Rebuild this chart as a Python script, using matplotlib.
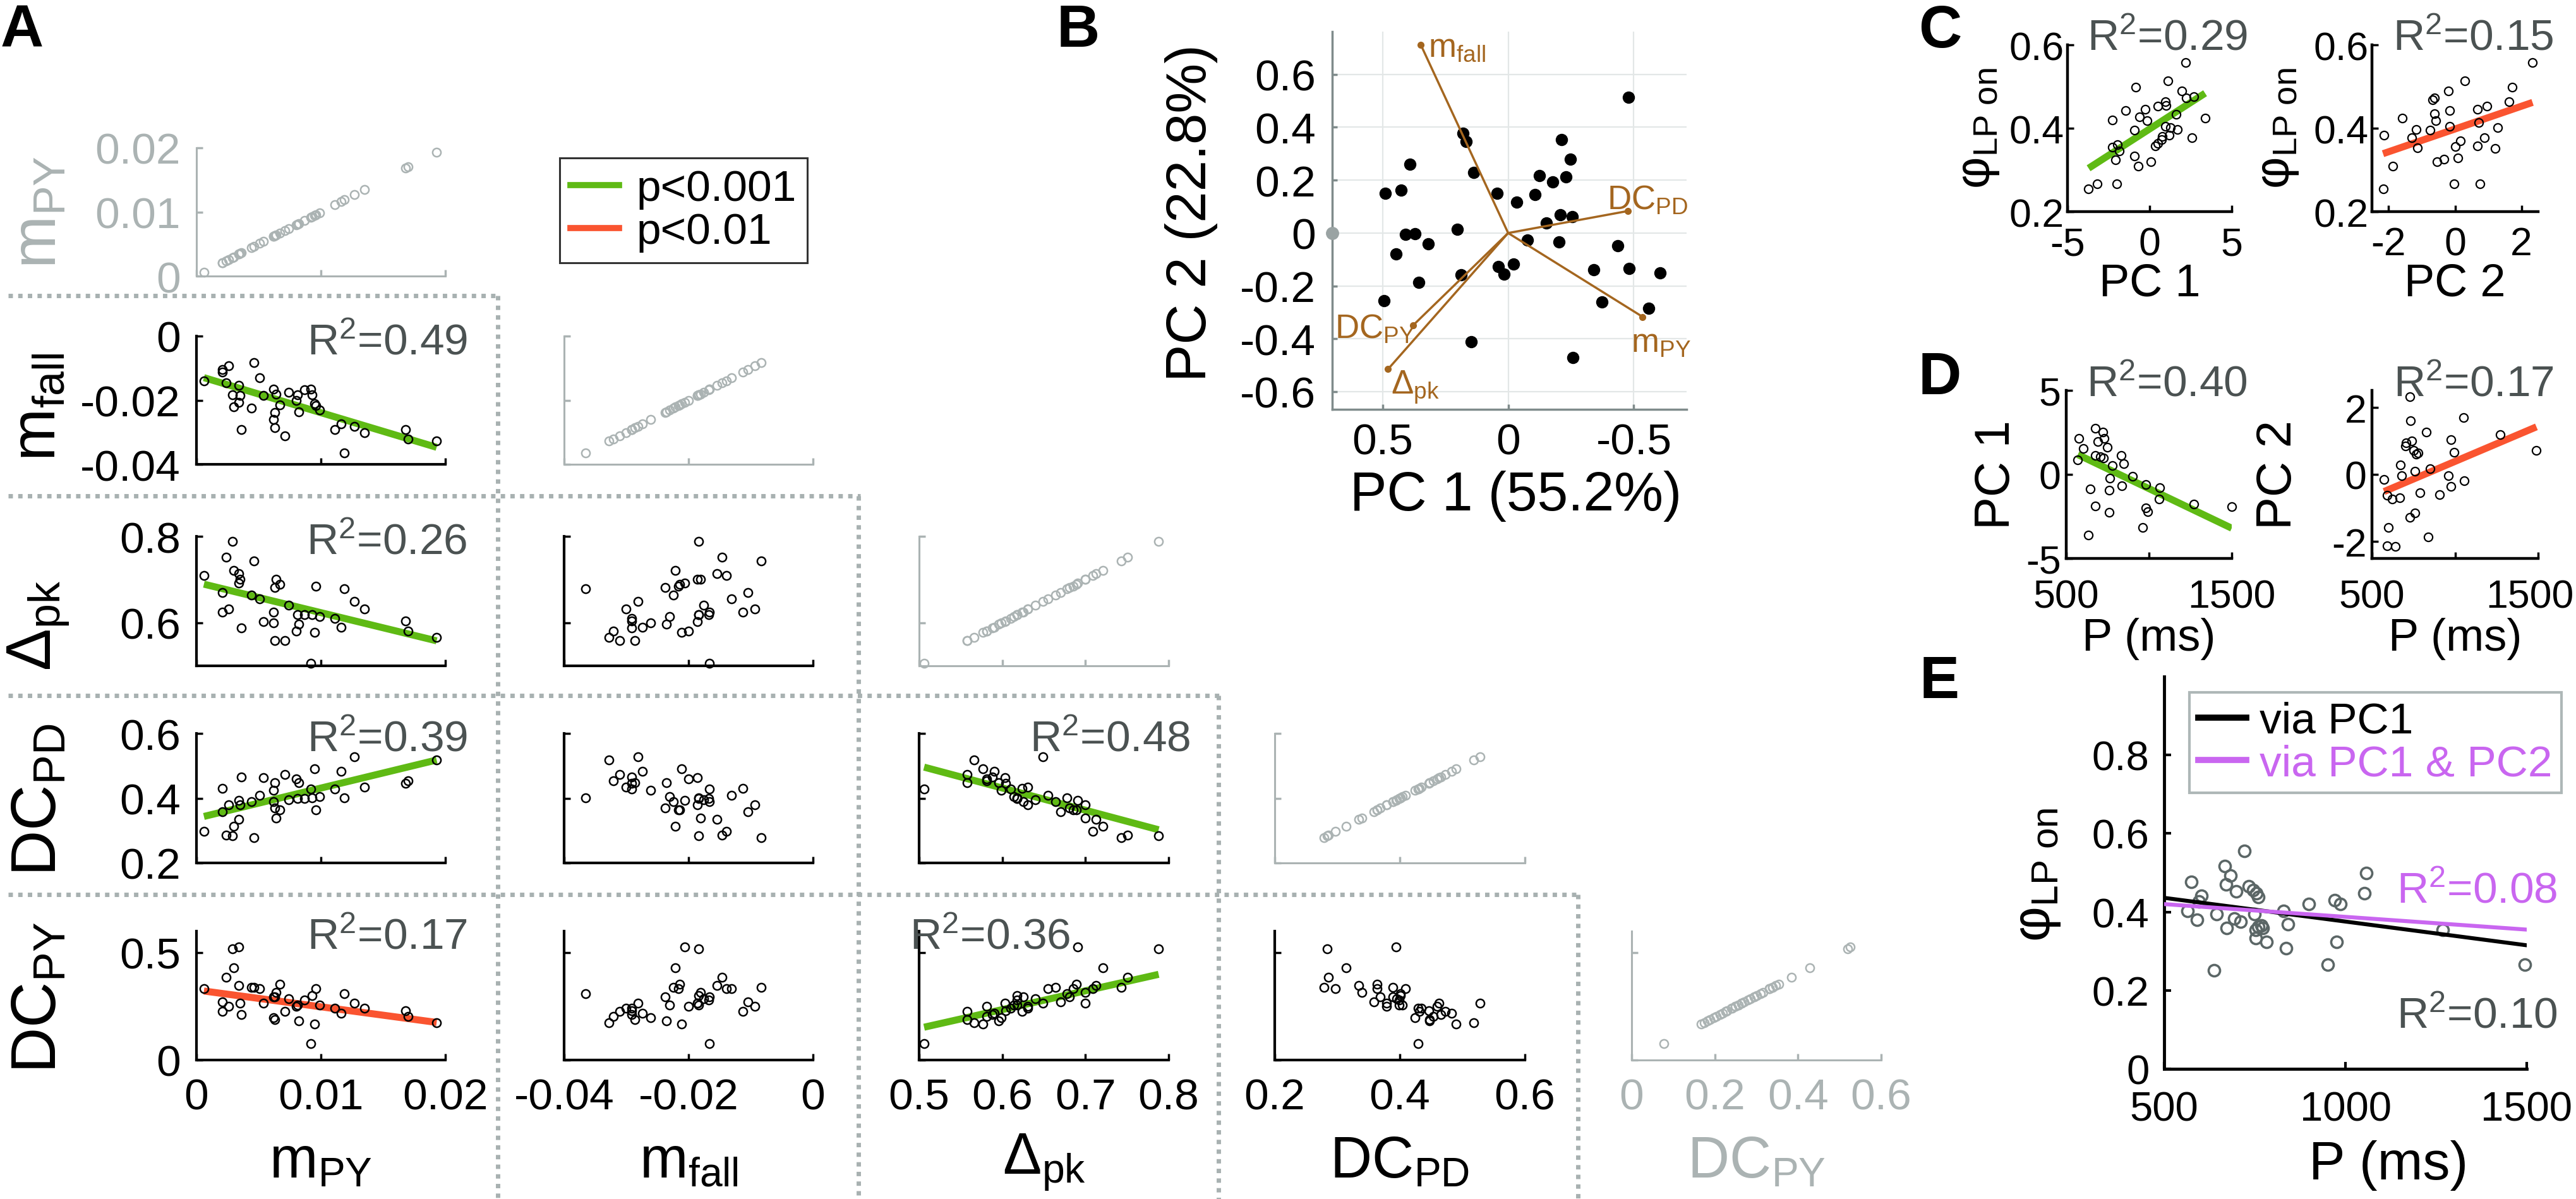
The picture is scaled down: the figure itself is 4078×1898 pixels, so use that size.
import numpy as np
import matplotlib
matplotlib.use('Agg')
import matplotlib.pyplot as plt
import matplotlib.transforms as mtransforms
from matplotlib.lines import Line2D

plt.rcParams['font.family'] = ['Liberation Sans', 'DejaVu Sans']
plt.rcParams['mathtext.fontset'] = 'custom'
plt.rcParams['mathtext.rm'] = 'Liberation Sans'
plt.rcParams['mathtext.it'] = 'Liberation Sans:italic'
plt.rcParams['axes.unicode_minus'] = False

# ---------------- data ----------------
# panel A: one entry per preparation (sorted by m_PY)
m_py = [0.0006, 0.0021, 0.0021, 0.0024, 0.0026, 0.0029, 0.0030, 0.0034, 0.0034, 0.0035,
        0.0036, 0.0044, 0.0046, 0.0051, 0.0054, 0.0062, 0.0062, 0.0063, 0.0063, 0.0064,
        0.0067, 0.0071, 0.0074, 0.0080, 0.0081, 0.0082, 0.0087, 0.0092, 0.0093, 0.0095,
        0.0096, 0.0099, 0.0111, 0.0116, 0.0119, 0.0127, 0.0135, 0.0168, 0.0170, 0.0193]
m_fall = [-0.0139, -0.0113, -0.0105, -0.0146, -0.0093, -0.0184, -0.0221, -0.0206, -0.0154, -0.0186,
          -0.0291, -0.0224, -0.0083, -0.0131, -0.0186, -0.0166, -0.0261, -0.0286, -0.0238, -0.0181,
          -0.0214, -0.0311, -0.0176, -0.0200, -0.0184, -0.0236, -0.0168, -0.0166, -0.0184, -0.0211,
          -0.0216, -0.0230, -0.0291, -0.0274, -0.0365, -0.0281, -0.0301, -0.0291, -0.0321, -0.0328]
d_pk = [0.709, 0.624, 0.670, 0.751, 0.631, 0.788, 0.721, 0.691, 0.713, 0.700,
        0.588, 0.664, 0.743, 0.655, 0.603, 0.625, 0.599, 0.558, 0.681, 0.700,
        0.689, 0.558, 0.640, 0.581, 0.618, 0.596, 0.618, 0.506, 0.618, 0.577,
        0.685, 0.614, 0.610, 0.590, 0.678, 0.649, 0.631, 0.604, 0.581, 0.566]
dc_pd = [0.297, 0.431, 0.359, 0.286, 0.379, 0.284, 0.314, 0.394, 0.334, 0.379,
         0.466, 0.389, 0.279, 0.409, 0.463, 0.389, 0.424, 0.447, 0.369, 0.339,
         0.364, 0.473, 0.395, 0.460, 0.399, 0.447, 0.399, 0.429, 0.401, 0.490,
         0.364, 0.404, 0.429, 0.483, 0.401, 0.528, 0.434, 0.446, 0.454, 0.518]
dc_py = [0.331, 0.226, 0.271, 0.384, 0.249, 0.519, 0.429, 0.526, 0.346, 0.264,
         0.212, 0.339, 0.339, 0.331, 0.264, 0.294, 0.197, 0.189, 0.294, 0.316,
         0.354, 0.226, 0.286, 0.249, 0.256, 0.182, 0.280, 0.077, 0.301, 0.167,
         0.331, 0.256, 0.240, 0.219, 0.310, 0.264, 0.241, 0.230, 0.204, 0.174]

a_names = [r'$\mathregular{m_{PY}}$', r'$\mathregular{m_{fall}}$', r'$\mathregular{Δ_{pk}}$',
           r'$\mathregular{DC_{PD}}$', r'$\mathregular{DC_{PY}}$']
a_lims = [(0, 0.02), (-0.04, 0), (0.5, 0.8), (0.2, 0.6), (0, 0.6)]
a_xticks = [[0, 0.01, 0.02], [-0.04, -0.02, 0], [0.5, 0.6, 0.7, 0.8], [0.2, 0.4, 0.6], [0, 0.2, 0.4, 0.6]]
a_yticks = [[0, 0.01, 0.02], [-0.04, -0.02, 0], [0.6, 0.8], [0.2, 0.4, 0.6], [0, 0.5]]

# significant regressions: (row, col): slope, intercept, p level, R2
a_fits = {(1, 0): (-1.162, -0.01227, 'p001', '0.49'),
          (2, 0): (-7.02, 0.6934, 'p001', '0.26'),
          (3, 0): (9.32, 0.338, 'p001', '0.39'),
          (4, 0): (-7.82, 0.326, 'p01', '0.17'),
          (3, 2): (-0.686, 0.843, 'p001', '0.48'),
          (4, 2): (0.873, -0.289, 'p001', '0.36')}

# panel B: PCA scores and loadings
b_pc1 = [-0.479, 0.180, 0.166, -0.213, -0.247, 0.392, 0.137, -0.124, -0.229, -0.176,
         0.490, 0.427, 0.043, -0.108, -0.033, -0.207, -0.254, -0.151, 0.202, 0.409,
         0.372, 0.318, -0.077, -0.202, -0.437, 0.445, 0.039, -0.022, 0.017, 0.188,
         -0.341, -0.481, -0.604, 0.356, 0.494, -0.372, -0.559, 0.146, -0.258]
b_pc2 = [0.514, 0.378, 0.347, 0.353, 0.280, 0.260, 0.229, 0.217, 0.213, 0.193,
         0.150, 0.163, 0.150, 0.145, 0.116, 0.070, 0.061, 0.037, 0.015, -0.004,
         -0.002, -0.040, -0.027, -0.033, -0.049, -0.079, -0.128, -0.118, -0.155, -0.158,
         -0.138, -0.134, -0.152, -0.186, -0.257, -0.260, -0.284, -0.412, -0.471]
b_edge_pc1 = [0.70]
b_edge_pc2 = [0.0]
b_load_names = [r'$\mathregular{m_{PY}}$', r'$\mathregular{m_{fall}}$', r'$\mathregular{Δ_{pk}}$',
                r'$\mathregular{DC_{PD}}$', r'$\mathregular{DC_{PY}}$']
b_load_pc1 = [-0.535, 0.348, 0.478, -0.475, 0.378]
b_load_pc2 = [-0.317, 0.713, -0.515, 0.083, -0.349]

# panel C
c1_pc1 = [2.196, 1.114, -0.845, 1.958, 2.229, 2.702, 0.945, 0.506, 1.013, -0.271,
          -1.453, 3.378, -2.264, -0.609, -0.169, 1.621, 0.945, 1.283, 1.688, -0.912,
          2.567, 0.743, 0.506, -1.960, -2.264, -1.858, 0.337, -0.912, -2.061, 0.067,
          -0.676, -3.716, -3.209, -1.994, 0.777, 1.182]
c1_phi = [0.557, 0.513, 0.498, 0.489, 0.472, 0.476, 0.463, 0.453, 0.455, 0.446,
          0.443, 0.424, 0.419, 0.427, 0.418, 0.433, 0.404, 0.402, 0.397, 0.395,
          0.377, 0.373, 0.364, 0.361, 0.355, 0.346, 0.358, 0.333, 0.325, 0.320,
          0.309, 0.254, 0.266, 0.267, 0.380, 0.383]
c2_pc2 = [2.333, 0.300, 1.717, -0.200, -0.617, -0.667, 1.617, 0.967, 0.667, -0.167,
          -1.583, -0.617, -0.583, -1.167, -0.750, 1.283, -0.167, 0.717, -2.133, -1.300,
          0.167, -1.133, 0.000, 0.883, 0.667, 1.200, 0.083, -0.333, -0.533, -1.867,
          -2.167, -0.033, 0.750]
c2_phi = [0.557, 0.513, 0.499, 0.490, 0.472, 0.468, 0.463, 0.453, 0.446, 0.443,
          0.424, 0.435, 0.418, 0.397, 0.395, 0.402, 0.405, 0.414, 0.384, 0.377,
          0.370, 0.353, 0.356, 0.377, 0.358, 0.351, 0.329, 0.326, 0.320, 0.309,
          0.254, 0.266, 0.267]
c_fits = [(0.02537, 0.3983, 'p001', '0.29'), (0.02733, 0.3982, 'p01', '0.15')]

# panel D
d1_p = [674, 722, 577, 691, 728, 604, 748, 674, 708, 725,
        570, 832, 778, 846, 762, 899, 836, 980, 758, 644,
        1064, 1060, 1272, 1500, 674, 758, 980, 993, 960, 634]
d1_pc1 = [2.751, 2.518, 2.161, 1.973, 2.161, 1.537, 1.631, 1.116, 1.037, 0.962,
          0.883, 1.116, 0.541, 0.650, -0.207, -0.128, -0.673, -0.598, -0.955, -0.876,
          -0.801, -1.455, -1.767, -1.921, -1.876, -2.263, -2.000, -2.233, -3.169, -3.605]
d2_p = [727, 733, 1050, 827, 740, 707, 700, 977, 1273, 750,
        777, 767, 1490, 993, 673, 850, 760, 573, 677, 960,
        1057, 977, 790, 907, 593, 623, 667, 757, 727, 840,
        600, 593, 640]
d2_pc2 = [2.312, 1.596, 1.688, 1.259, 0.987, 0.947, 0.848, 1.026, 1.182, 0.714,
          0.637, 0.598, 0.714, 0.660, 0.286, 0.169, 0.092, -0.143, -0.041, -0.041,
          -0.182, -0.353, -0.547, -0.594, -0.611, -0.742, -0.688, -1.156, -1.273, -1.857,
          -1.585, -2.130, -2.152]
d_fits = [(-0.004711, 3.866, 'p001', '0.40'), (0.002098, -1.711, 'p01', '0.17')]

# panel E
e_p = [575, 565, 591, 603, 595, 645, 668, 671, 683, 672,
       694, 699, 711, 722, 734, 745, 755, 760, 749, 752,
       760, 771, 783, 752, 829, 837, 842, 899, 952, 971,
       975, 986, 1052, 1057, 1268, 1494, 637, 768]
e_phi = [0.477, 0.402, 0.380, 0.441, 0.427, 0.395, 0.517, 0.470, 0.492, 0.359,
         0.384, 0.452, 0.376, 0.556, 0.466, 0.456, 0.448, 0.438, 0.395, 0.355,
         0.362, 0.359, 0.323, 0.333, 0.402, 0.308, 0.369, 0.420, 0.265, 0.430,
         0.323, 0.420, 0.448, 0.499, 0.355, 0.265, 0.251, 0.366]
e_fit_pc1 = (-0.000121, 0.4965, '0.10')
e_fit_pc12 = (-0.000065, 0.4525, '0.08')

# ---------------- styling ----------------
GREEN = '#5fba14'
RED = '#fa5430'
GRAY = '#abb3b3'
R2C = '#4b5252'
BROWN = '#a4661f'
MAGENTA = '#c966f0'
DOT = '#a8b1b1'
LEVEL_COL = {'p001': GREEN, 'p01': RED}

W, H = 4078, 1899
fig = plt.figure(figsize=(W / 100, H / 100), dpi=100)
fig.patch.set_facecolor('white')


def px_axes(x0, y0, x1, y1):
    return fig.add_axes([x0 / W, 1 - y1 / H, (x1 - x0) / W, (y1 - y0) / H])


def ftext(x, y, s, **kw):
    return fig.text(x / W, 1 - y / H, s, **kw)


def fig_dots(x0, y0, x1, y1):
    fig.add_artist(Line2D([x0 / W, x1 / W], [1 - y0 / H, 1 - y1 / H], transform=fig.transFigure,
                          color=DOT, lw=5, ls=(0, (1.0, 1.2))))


def fmt(v):
    return '%g' % v


def simple_axes(ax, color='black', lw=3):
    for s in ['top', 'right']:
        ax.spines[s].set_visible(False)
    for s in ['left', 'bottom']:
        ax.spines[s].set_color(color)
        ax.spines[s].set_linewidth(lw)
    ax.set_facecolor('none')


# ---------------- panel A ----------------
a_vars = [m_py, m_fall, d_pk, dc_pd, dc_py]
col_px = [(311, 705), (893, 1287), (1455, 1850), (2018, 2414), (2583, 2978)]
row_px = [(235, 438), (533, 736), (850, 1055), (1162, 1367), (1475, 1679)]

for i in range(5):
    for j in range(i + 1):
        diag = i == j
        c = GRAY if diag else 'black'
        ax = px_axes(col_px[j][0], row_px[i][0], col_px[j][1], row_px[i][1])
        simple_axes(ax, c, 2.2 if diag else 3)
        ax.plot(a_vars[j], a_vars[i], 'o', ms=9.5, mfc='none', mec=c, mew=1.8,
                clip_on=False, zorder=3)
        ax.set_xlim(a_lims[j])
        ax.set_ylim(a_lims[i])
        ax.set_xticks(a_xticks[j])
        ax.set_yticks(a_yticks[i])
        ax.tick_params(direction='in', length=7, width=2.5, color=c, labelsize=50)
        ax.tick_params(axis='y', pad=18)
        ax.tick_params(axis='x', pad=20)
        if j == 0:
            ax.set_yticklabels([fmt(v) for v in a_yticks[i]], color=c)
        else:
            ax.set_yticklabels([])
        if i == 4:
            ax.set_xticklabels([fmt(v) for v in a_xticks[j]], color=c)
        else:
            ax.set_xticklabels([])
        if (i, j) in a_fits:
            slope, icpt, lvl, r2 = a_fits[(i, j)]
            xs = np.array([min(a_vars[j]), max(a_vars[j])])
            ax.plot(xs, icpt + slope * xs, color=LEVEL_COL[lvl], lw=8,
                    solid_capstyle='butt', zorder=2)
            if (i, j) == (4, 2):
                ftext(col_px[j][0] - 15, row_px[i][0] + 28, r'$\mathregular{R^2}$=' + r2,
                      fontsize=50, color=R2C, ha='left', va='baseline')
            else:
                ftext(col_px[j][1] + 35, row_px[i][0] + 28, r'$\mathregular{R^2}$=' + r2,
                      fontsize=50, color=R2C, ha='right', va='baseline')

ylab_y = [336, 644, 990, 1266, 1579]
for i in range(5):
    ftext(62, ylab_y[i], a_names[i], fontsize=72, rotation=90, ha='center', va='center',
          color=GRAY if i == 0 else 'black')
    cx = (col_px[i][0] + col_px[i][1]) / 2
    ftext(cx, 1840, a_names[i], fontsize=66, ha='center', va='center',
          color=GRAY if i == 4 else 'black')

# dotted separators
fig_dots(13, 469, 790, 469)
fig_dots(13, 786, 1362, 786)
fig_dots(13, 1102, 1931, 1102)
fig_dots(13, 1417, 2500, 1417)
fig_dots(788, 469, 788, 1899)
fig_dots(1359, 786, 1359, 1899)
fig_dots(1929, 1102, 1929, 1899)
fig_dots(2498, 1417, 2498, 1899)

leg = fig.legend(handles=[Line2D([], [], color=GREEN, lw=7), Line2D([], [], color=RED, lw=7)],
                 labels=['p<0.001', 'p<0.01'], loc='upper left',
                 bbox_to_anchor=(886 / W, 1 - 251 / H), bbox_transform=fig.transFigure,
                 fontsize=50, frameon=True, fancybox=False, edgecolor='black',
                 handlelength=1.1, handletextpad=0.4, borderpad=0.25, labelspacing=0.05,
                 borderaxespad=0)
leg.get_frame().set_linewidth(2.2)

# ---------------- panel B ----------------
axb = px_axes(2109, 51, 2670, 649)
simple_axes(axb, '#7f8b8b', 2.5)
axb.set_xlim(0.7, -0.71)
axb.set_ylim(-0.667, 0.762)
axb.set_xticks([0.5, 0, -0.5])
axb.set_xticklabels(['0.5', '0', '-0.5'])
yt = [-0.6, -0.4, -0.2, 0, 0.2, 0.4, 0.6]
axb.set_yticks(yt)
axb.set_yticklabels([fmt(v) for v in yt])
axb.grid(True, color='#e3e7e7', lw=1.6)
axb.tick_params(direction='in', length=6, width=2.5, color='#7f8b8b', labelsize=50)
axb.tick_params(axis='y', pad=19)
axb.tick_params(axis='x', pad=15)
axb.plot(b_pc1, b_pc2, 'o', color='black', ms=13, zorder=3)
axb.plot(b_edge_pc1, b_edge_pc2, 'o', color='#9aa3a3', ms=14, clip_on=False, zorder=3)
label_off = [(29, -41, 'center'), (12, -4, 'left'), (43, -28, 'center'),
             (32, 18, 'center'), (-61, -5, 'center')]
for k in range(5):
    axb.plot([0, b_load_pc1[k]], [0, b_load_pc2[k]], color=BROWN, lw=2.5, zorder=4)
    axb.plot(b_load_pc1[k], b_load_pc2[k], 'o', color=BROWN, ms=7, zorder=4)
    dx, dy, ha = label_off[k]
    axb.annotate(b_load_names[k], (b_load_pc1[k], b_load_pc2[k]), xytext=(dx, dy),
                 textcoords='offset pixels', color=BROWN, fontsize=38, ha=ha, va='center',
                 annotation_clip=False)
ftext(1886, 337, 'PC 2 (22.8%)', fontsize=64, rotation=90, ha='center', va='center')
ftext(2400, 785, 'PC 1 (55.2%)', fontsize=63, ha='center', va='center')

# ---------------- panels C, D ----------------
small = [
    ((3273, 72, 3533, 336), c1_pc1, c1_phi, (-5, 5), (0.2, 0.6), [-5, 0, 5], ['-5', '0', '5'],
     [0.2, 0.4, 0.6], c_fits[0], 'PC 1', r'$\mathregular{φ_{LP\ on}}$', 3131, 203, 450, 16, 4, 0),
    ((3755, 72, 4018, 336), c2_pc2, c2_phi, (-2.5, 2.5), (0.2, 0.6), [-2, 0, 2], ['-2', '0', '2'],
     [0.2, 0.4, 0.6], c_fits[1], 'PC 2', r'$\mathregular{φ_{LP\ on}}$', 3606, 203, 450, 16, 4, 0),
    ((3271, 619, 3533, 885), d1_p, d1_pc1, (500, 1500), (-5, 5), [500, 1000, 1500], ['500', '', '1500'],
     [-5, 0, 5], d_fits[0], 'P (ms)', 'PC 1', 3160, 752, 1012, 23, 6, 0),
    ((3755, 619, 4018, 885), d2_p, d2_pc2, (500, 1500), (-2.5, 2.5), [500, 1000, 1500], ['500', '', '1500'],
     [-2, 0, 2], d_fits[1], 'P (ms)', 'PC 2', 3607, 752, 1012, 23, 6, -13),
]
for (box, xs_, ys_, xl, yl, xt, xtl, ytk, fit, xlab, ylab, ylx, yly, xly, xpad, ypad, last_shift) in small:
    ax = px_axes(*box)
    simple_axes(ax, 'black', 3.2)
    ax.plot(xs_, ys_, 'o', ms=9.5, mfc='none', mec='black', mew=1.6, clip_on=False, zorder=3)
    slope, icpt, lvl, r2 = fit
    xx = np.array([min(xs_), max(xs_)])
    ax.plot(xx, icpt + slope * xx, color=LEVEL_COL[lvl], lw=8, solid_capstyle='butt', zorder=2)
    ax.set_xlim(xl)
    ax.set_ylim(yl)
    ax.set_xticks(xt)
    ax.set_xticklabels(xtl)
    ax.set_yticks(ytk)
    ax.set_yticklabels([fmt(v) for v in ytk])
    ax.tick_params(direction='in', length=7, width=2.5, labelsize=45)
    ax.tick_params(axis='x', pad=xpad)
    ax.tick_params(axis='y', pad=ypad)
    if last_shift:
        lab = ax.get_xticklabels()[-1]
        lab.set_transform(lab.get_transform() +
                          mtransforms.ScaledTranslation(last_shift / 100, 0, fig.dpi_scale_trans))
    ftext(box[2] + 25, box[1] + 8, r'$\mathregular{R^2}$=' + r2, fontsize=50, color=R2C,
          ha='right', va='baseline')
    ftext((box[0] + box[2]) / 2, xly, xlab, fontsize=52, ha='center', va='center')
    ftext(ylx, yly, ylab, fontsize=56, rotation=90, ha='center', va='center')

# ---------------- panel E ----------------
axe = px_axes(3426, 1072, 4000, 1693)
simple_axes(axe, 'black', 3.5)
axe.plot(e_p, e_phi, 'o', ms=13, mfc='none', mec='#5b6666', mew=2.6, clip_on=False, zorder=3)
xx = np.array([500, 1500])
axe.plot(xx, e_fit_pc1[1] + e_fit_pc1[0] * xx, color='black', lw=4.5, zorder=4)
axe.plot(xx, e_fit_pc12[1] + e_fit_pc12[0] * xx, color=MAGENTA, lw=4.5, zorder=4)
axe.set_xlim(500, 1500)
axe.set_ylim(0, 1.0)
axe.set_xticks([500, 1000, 1500])
axe.set_xticklabels(['500', '1000', '1500'])
ey = [0, 0.2, 0.4, 0.6, 0.8]
axe.set_yticks(ey)
axe.set_yticklabels([fmt(v) for v in ey])
axe.tick_params(direction='in', length=8, width=3, labelsize=47)
axe.tick_params(axis='x', pad=25)
axe.tick_params(axis='y', pad=17)
ftext(4049, 1430, r'$\mathregular{R^2}$=' + e_fit_pc12[2], fontsize=50, color=MAGENTA,
      ha='right', va='baseline')
ftext(4049, 1628, r'$\mathregular{R^2}$=' + e_fit_pc1[2], fontsize=50, color=R2C,
      ha='right', va='baseline')
ftext(3781, 1845, 'P (ms)', fontsize=62, ha='center', va='center')
ftext(3225, 1385, r'$\mathregular{φ_{LP\ on}}$', fontsize=62, rotation=90, ha='center', va='center')
leg2 = axe.legend(handles=[Line2D([], [], color='black', lw=7), Line2D([], [], color=MAGENTA, lw=7)],
                  labels=['via PC1', 'via PC1 & PC2'], loc='upper left',
                  bbox_to_anchor=(3466 / W, 1 - 1097 / H), bbox_transform=fig.transFigure,
                  fontsize=50, frameon=True, fancybox=False, edgecolor='#9aa5a5',
                  handlelength=1.1, handletextpad=0.3, borderpad=0.2, labelspacing=0.05,
                  borderaxespad=0)
leg2.get_frame().set_linewidth(3)
for t, col in zip(leg2.get_texts(), ['black', MAGENTA]):
    t.set_color(col)

# ---------------- panel letters ----------------
for letter, x, y in [('A', 35, 50), ('B', 1707, 50), ('C', 3071, 50), ('D', 3071, 600), ('E', 3070, 1081)]:
    ftext(x, y, letter, fontsize=68, fontweight='bold', ha='center', va='center')

fig.savefig('out.png', dpi=100)
